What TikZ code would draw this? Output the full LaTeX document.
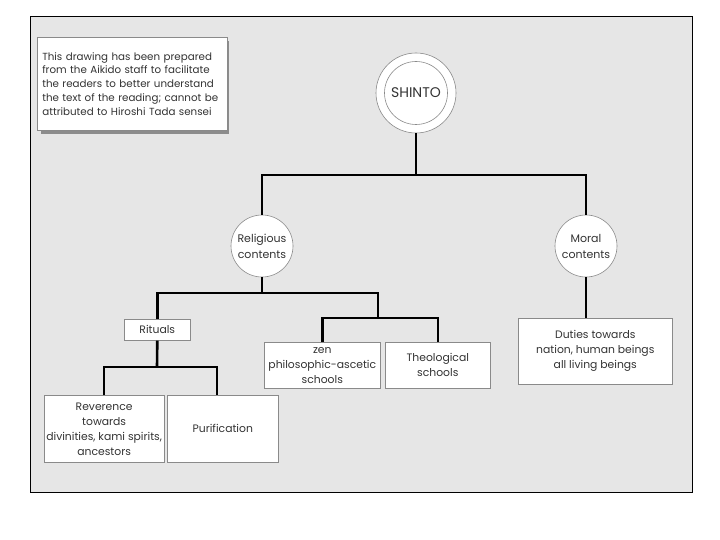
\documentclass[tikz,border=0pt]{standalone}
\usepackage{fontspec}
\setmainfont{Poppins}
\definecolor{bgc}{HTML}{E6E6E6}
\definecolor{edgec}{HTML}{8A8A8A}
\definecolor{shadowc}{HTML}{8C8C8C}
\definecolor{txtc}{HTML}{333333}
\begin{document}
\begin{tikzpicture}[x=1pt,y=-1pt,
  conn/.style={line width=2.6pt, line join=miter},
  box/.style={draw=edgec, line width=0.6pt, fill=white, align=center, inner sep=2pt, text=txtc,
    font=\fontsize{10.8pt}{15pt}\selectfont},
  bubble/.style={circle, draw=edgec, line width=0.6pt, fill=white, minimum size=62pt, inner sep=0pt, align=center, text=txtc,
    font=\fontsize{11pt}{16pt}\selectfont}]
\useasboundingbox (0,0) rectangle (720,540);
\fill[white] (0,0) rectangle (720,540);
\draw[fill=bgc, line width=1pt] (30,17) rectangle (692,492);
% note
\fill[shadowc] (41,41) rectangle (229,134);
\node[box, anchor=north west, minimum width=187pt, minimum height=93pt, text width=180pt, align=left, inner xsep=5pt,
  font=\fontsize{10.3pt}{13.7pt}\selectfont] (note) at (37,37)
  {This drawing has been prepared\\from the Aikido staff to facilitate\\the readers to better understand\\the text of the reading; cannot be\\attributed to Hiroshi Tada sensei\\[8pt]};
% circles
\node[bubble, minimum size=80pt, font=\fontsize{14pt}{16pt}\selectfont] (shinto) at (416,93) {SHINTO};
\draw[edgec, line width=0.6pt] (shinto.center) circle[radius=31.5];
\node[bubble] (relig) at (262,246) {Religious\\contents};
\node[bubble] (moral) at (586,246) {Moral\\contents};
% boxes
\node[box, anchor=north west, minimum width=66pt, minimum height=21pt] (rituals) at (124,319) {Rituals};
\node[box, anchor=north west, minimum width=116pt, minimum height=46pt] (zen) at (264,342) {zen\\philosophic-ascetic\\schools};
\node[box, anchor=north west, minimum width=105pt, minimum height=46pt] (theo) at (385,342) {Theological\\schools};
\node[box, anchor=north west, minimum width=113pt, minimum height=67pt] (rev) at (44,395) {Reverence\\towards\\divinities, kami spirits,\\ancestors};
\node[box, anchor=north west, minimum width=111pt, minimum height=67pt] (puri) at (167,395) {Purification};
\node[box, anchor=north west, minimum width=154pt, minimum height=66pt] (duties) at (518,318) {Duties towards\\nation, human beings\\all living beings};
% junctions
\coordinate (j1) at (416,175);
\coordinate (j2) at (262,293);
\coordinate (j3) at (378,318);
\coordinate (j4) at (157,367);
\coordinate (j5) at (217,395);
% connectors
\draw[conn] (shinto.south) -- (j1);
\draw[conn] (relig.north) |- (j1) -| (moral.north);
\draw[conn] (relig.south) -- (j2);
\draw[conn] (rituals.north) |- (j2) -| (j3);
\draw[conn] (zen.north) |- (j3) -| (theo.north);
\draw[conn] (rituals.south) -- (j4);
\draw[conn] (rev.north) |- (j4) -| (j5);
\draw[conn] (moral.south) -- (moral.south |- duties.north);
\end{tikzpicture}
\end{document}
